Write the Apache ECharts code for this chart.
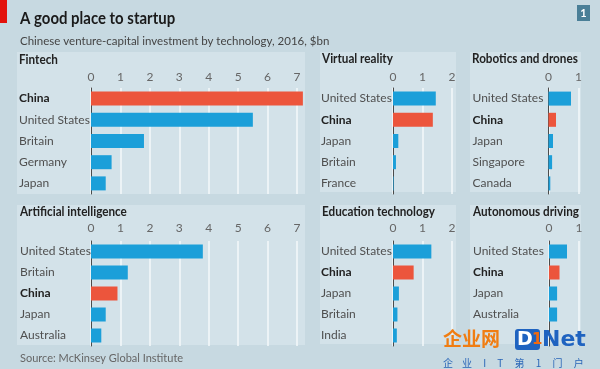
<!DOCTYPE html>
<html><head><meta charset="utf-8">
<script src="https://cdn.jsdelivr.net/npm/echarts@6.0.0/dist/echarts.min.js"></script>
<style>html,body{margin:0;padding:0;background:#c7d9e1;}#c{width:600px;height:369px;}</style>
</head><body><div id="c"></div>
<script>
// ---- data ----
const fintechCats = ['China', 'United States', 'Britain', 'Germany', 'Japan'];
const fintechVals = [7.2, 5.5, 1.8, 0.7, 0.5];
const vrCats = ['United States', 'China', 'Japan', 'Britain', 'France'];
const vrVals = [1.45, 1.35, 0.18, 0.1, 0.02];
const roboCats = ['United States', 'China', 'Japan', 'Singapore', 'Canada'];
const roboVals = [0.75, 0.25, 0.15, 0.12, 0.06];
const aiCats = ['United States', 'Britain', 'China', 'Japan', 'Australia'];
const aiVals = [3.8, 1.25, 0.9, 0.5, 0.35];
const eduCats = ['United States', 'China', 'Japan', 'Britain', 'India'];
const eduVals = [1.3, 0.7, 0.2, 0.15, 0.13];
const autoCats = ['United States', 'China', 'Japan', 'Australia', ''];
const autoVals = [0.6, 0.35, 0.27, 0.27, null];
const axisMax = [7, 2, 1, 7, 2, 1];
const panelTitles = ['Fintech', 'Virtual reality', 'Robotics and drones', 'Artificial intelligence', 'Education technology', 'Autonomous driving'];
const highlight = 'China';

const FONT = "Lato,'Open Sans',sans-serif";
const BLUE = '#1b9fd9', RED = '#ec553c';
const cats = [fintechCats, vrCats, roboCats, aiCats, eduCats, autoCats];
const vals = [fintechVals, vrVals, roboVals, aiVals, eduVals, autoVals];

const grids = [
  {left: 91, top: 88, width: 206, height: 106},
  {left: 393, top: 88, width: 59, height: 106},
  {left: 548.5, top: 88, width: 30, height: 106},
  {left: 91, top: 241, width: 206, height: 105},
  {left: 393, top: 241, width: 59, height: 105},
  {left: 549, top: 241, width: 30, height: 105}
];
const labelMargin = [72, 72, 76, 71, 72, 76];
const panels = [
  {x: 17, y: 52, w: 288, h: 142, tx: 19, ty: 60},
  {x: 320, y: 52, w: 136, h: 140, tx: 322, ty: 59},
  {x: 470, y: 52, w: 111, h: 140, tx: 472, ty: 59},
  {x: 17, y: 205, w: 288, h: 140, tx: 20, ty: 212},
  {x: 320, y: 205, w: 136, h: 139, tx: 322, ty: 212},
  {x: 470, y: 205, w: 111, h: 139, tx: 473, ty: 212}
];

const xAxis = [], yAxis = [], series = [];
grids.forEach((g, i) => {
  xAxis.push({
    type: 'value', gridIndex: i, position: 'top', min: 0, max: axisMax[i], interval: 1,
    axisLine: {show: false}, axisTick: {show: false},
    axisLabel: {color: '#666', fontSize: 12, fontFamily: FONT, margin: i < 3 ? 5 : 7},
    splitLine: {show: true, lineStyle: {color: '#f4f8fa', width: 1.5}}
  });
  yAxis.push({
    type: 'category', gridIndex: i, inverse: true, data: cats[i],
    axisLine: {show: true, lineStyle: {color: '#4b4b4b', width: 1}},
    axisTick: {show: false},
    axisLabel: {
      align: 'left', margin: labelMargin[i],
      color: '#4f4f4f', fontSize: 12, fontFamily: FONT,
      formatter: v => v === highlight ? '{b|' + v + '}' : v,
      rich: {b: {fontWeight: 'bold', color: '#222', fontSize: 12, fontFamily: FONT}}
    }
  });
  series.push({
    type: 'bar', xAxisIndex: i, yAxisIndex: i, barWidth: 14, clip: false, silent: true,
    data: vals[i].map((v, k) => ({value: v, itemStyle: {color: cats[i][k] === highlight ? RED : BLUE}}))
  });
});

const graphic = [];
panels.forEach((p, i) => {
  graphic.push({type: 'rect', shape: {x: p.x, y: p.y, width: p.w, height: p.h}, style: {fill: '#d3e2e9'}, z: -10, silent: true});
  graphic.push({type: 'text', x: p.tx, y: p.ty, scaleX: 0.9, style: {text: panelTitles[i], font: "bold 13px " + FONT, fill: '#222', textVerticalAlign: 'middle'}});
});
graphic.push(
  {type: 'rect', shape: {x: 0, y: 0, width: 7, height: 23}, style: {fill: '#e3120b'}},
  {type: 'text', x: 20, y: 19, scaleX: 0.88, style: {text: 'A good place to startup', font: "bold 17px " + FONT, fill: '#1a1a1a', textVerticalAlign: 'middle'}},
  {type: 'text', x: 20, y: 41, style: {text: 'Chinese venture-capital investment by technology, 2016, $bn', font: "11.5px " + FONT, fill: '#444', textVerticalAlign: 'middle'}},
  {type: 'rect', shape: {x: 577, y: 5, width: 13, height: 16}, style: {fill: '#4a7f97'}},
  {type: 'text', x: 583.5, y: 13, style: {text: '1', font: "bold 11px " + FONT, fill: '#fff', textAlign: 'center', textVerticalAlign: 'middle'}},
  {type: 'text', x: 20, y: 358, style: {text: 'Source: McKinsey Global Institute', font: "11px " + FONT, fill: '#666', textVerticalAlign: 'middle'}},
  // watermark
  {type: 'text', x: 443, y: 339, z: 100, style: {text: '企业网', font: "bold 19px 'Noto Sans CJK SC'", fill: '#f07d12', textVerticalAlign: 'middle'}},
  {type: 'rect', z: 100, shape: {x: 515, y: 329, width: 25, height: 21, r: 3}, style: {fill: '#1f63c0'}},
  {type: 'text', x: 517, y: 340, z: 101, style: {text: 'D', font: "bold 19px 'DejaVu Sans'", fill: '#fff', textVerticalAlign: 'middle'}},
  {type: 'text', x: 532, y: 340, z: 101, style: {text: '1', font: "bold 15px 'DejaVu Sans'", fill: '#f06a10', textVerticalAlign: 'middle'}},
  {type: 'text', x: 542, y: 340, z: 100, style: {text: 'Net', font: "bold 22px 'DejaVu Sans'", fill: '#1f63c0', textVerticalAlign: 'middle'}},
  {type: 'text', x: 443, y: 363, z: 100, style: {text: '企    业     I     T     第     1     门     户', font: "10px 'Noto Sans CJK SC'", fill: '#2a66b8', textVerticalAlign: 'middle'}}
);

const chart = echarts.init(document.getElementById('c'), null, {renderer: 'canvas'});
chart.setOption({
  backgroundColor: '#c7d9e1',
  animation: false,
  grid: grids.map(g => Object.assign({containLabel: false}, g)),
  xAxis, yAxis, series, graphic
});
</script></body></html>
